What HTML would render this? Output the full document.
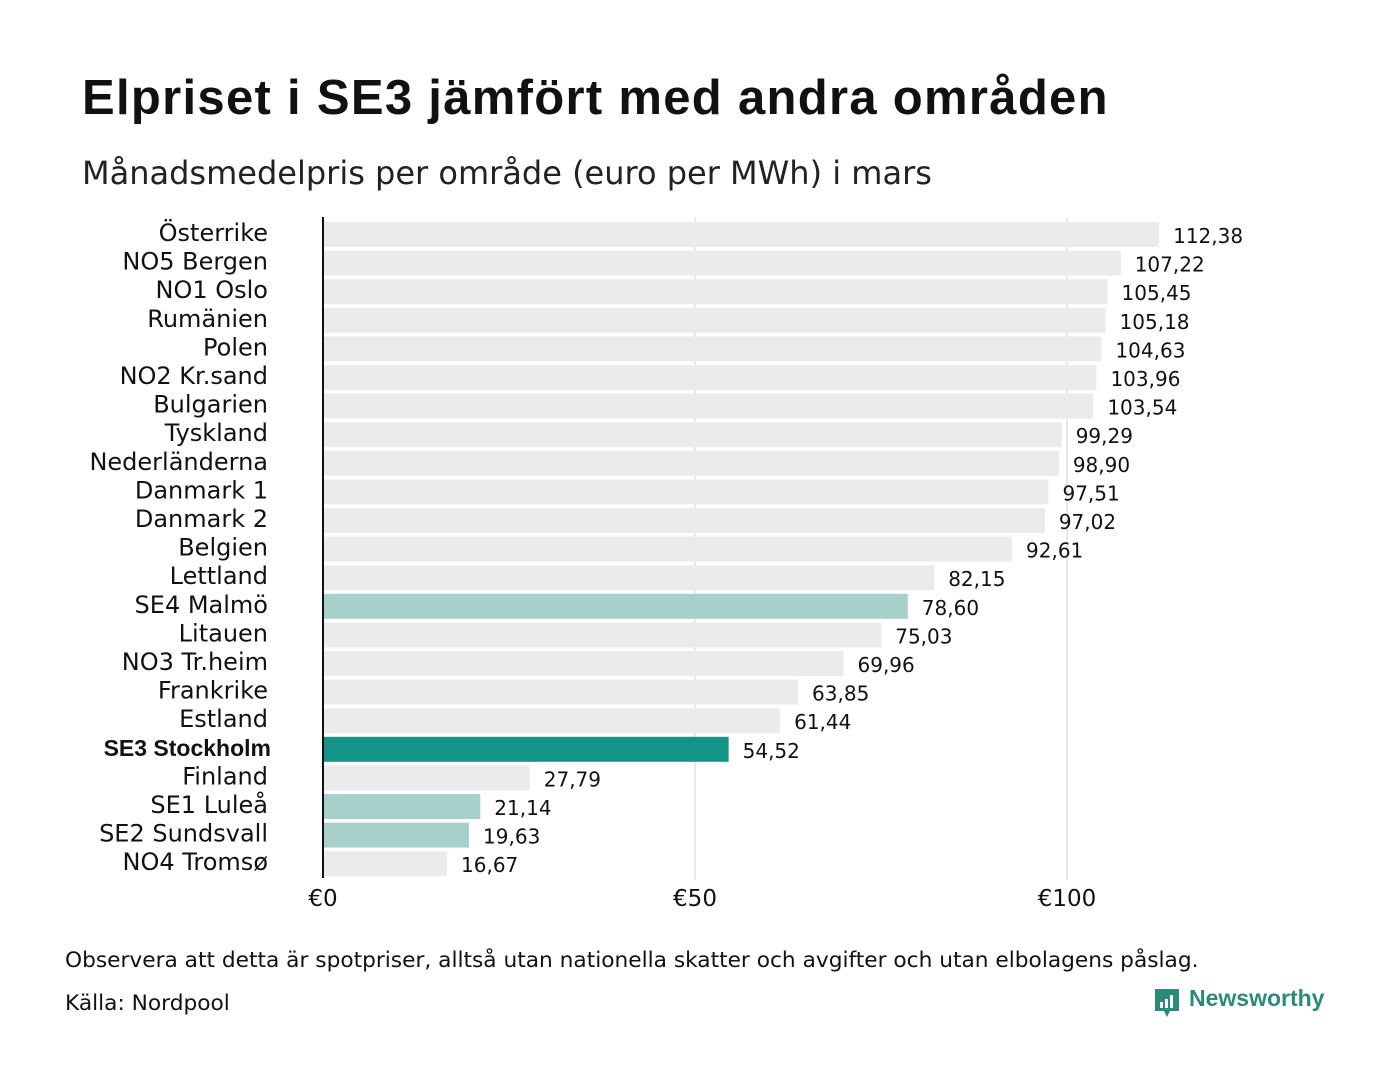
<!DOCTYPE html>
<html><head><meta charset="utf-8"><style>
body{margin:0;background:#fff;width:1400px;height:1080px;overflow:hidden;font-family:"Liberation Sans","DejaVu Sans",sans-serif;}
#t{position:absolute;left:82px;top:70px;font-size:49px;font-weight:bold;color:#111;margin:0;letter-spacing:1.3px}
#s{position:absolute;left:82px;top:154px;font-size:32px;color:#222;font-family:"DejaVu Sans",sans-serif}
.n{position:absolute;left:65px;font-size:21.7px;color:#111;font-family:"DejaVu Sans",sans-serif}
</style></head><body>
<h1 id="t">Elpriset i SE3 jämfört med andra områden</h1>
<div id="s">Månadsmedelpris per område (euro per MWh) i mars</div>
<svg id="c" width="1400" height="1080" style="position:absolute;left:0;top:0;font-family:'DejaVu Sans',sans-serif"></svg>
<div class="n" style="top:948px">Observera att detta är spotpriser, alltså utan nationella skatter och avgifter och utan elbolagens påslag.</div>
<div class="n" style="top:991px">Källa: Nordpool</div>
<div style="position:absolute;left:1153px;top:987px">
<svg width="28" height="34" style="position:absolute;left:0;top:0"><path d="M2 2h24v22h-9l-3 6-3-6H2z" fill="#2b8a7c"/><rect x="7" y="15" width="3" height="6" fill="#fff"/><rect x="12" y="12" width="3" height="9" fill="#fff"/><rect x="17" y="8" width="3" height="13" fill="#fff"/></svg>
<span style="position:absolute;left:36px;top:-2px;font-size:23px;font-weight:bold;color:#2b8a7c">Newsworthy</span></div>
<script>
const categories=["Österrike","NO5 Bergen","NO1 Oslo","Rumänien","Polen","NO2 Kr.sand","Bulgarien","Tyskland","Nederländerna","Danmark  1","Danmark  2","Belgien","Lettland","SE4  Malmö","Litauen","NO3 Tr.heim","Frankrike","Estland","SE3 Stockholm","Finland","SE1  Luleå","SE2  Sundsvall","NO4 Tromsø"];
const values=[112.38,107.22,105.45,105.18,104.63,103.96,103.54,99.29,98.90,97.51,97.02,92.61,82.15,78.60,75.03,69.96,63.85,61.44,54.52,27.79,21.14,19.63,16.67];
const ticks=[0,50,100];
const tickLabels=["€0","€50","€100"];
const NS="http://www.w3.org/2000/svg",svg=document.getElementById('c');
const x=v=>323+v*7.44, y=i=>222+i*28.6;
function mk(t,a){const e=document.createElementNS(NS,t);for(const k in a)e.setAttribute(k,a[k]);svg.appendChild(e);return e;}
ticks.forEach((t,i)=>{
 if(t>0){const g=mk('line',{x1:x(t),x2:x(t),y1:217,y2:880,stroke:'#d0d0d0','stroke-width':1});
 
 }
 const l=mk('text',{x:x(t),y:906,'text-anchor':'middle','font-size':23,fill:'#111'});l.textContent=tickLabels[i];
 
 
});
categories.forEach((c,i)=>{
 const se3=c.startsWith('SE3'), se=c.startsWith('SE');
 const b=mk('rect',{x:x(0),y:y(i),width:x(values[i])-x(0),height:25,fill:se3?'#139486':se?'#a6d0c9':'#ebebeb'});
 
 
 const v=mk('text',{x:x(values[i])+14,y:y(i)+21,'font-size':20,fill:'#111'});v.textContent=values[i].toFixed(2).replace('.',',');
 
 
 const l=mk('text',{x:se3?271:268,y:y(i)+19,'text-anchor':'end','font-size':se3?23:24,'font-weight':se3?'bold':'normal',fill:'#111','xml:space':'preserve'});l.textContent=c;
 if(se3)l.setAttribute('font-family','Liberation Sans, sans-serif');
 
 
});
const a=mk('line',{x1:323,x2:323,y1:217,y2:878,stroke:'#111','stroke-width':2});


</script>
</body></html>
